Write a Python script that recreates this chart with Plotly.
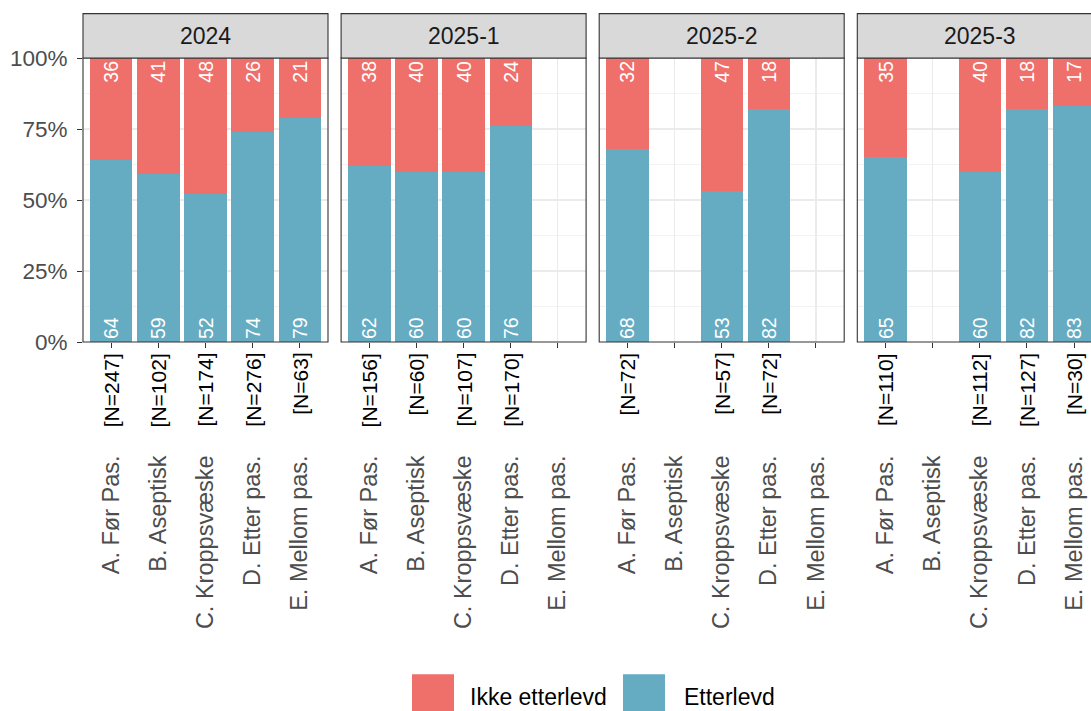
import plotly.graph_objects as go

# ---------------- data ----------------
periods = ["2024", "2025-1", "2025-2", "2025-3"]
categories = ["A. Før Pas.", "B. Aseptisk", "C. Kroppsvæske", "D. Etter pas.", "E. Mellom pas."]
series_names = ["Ikke etterlevd", "Etterlevd"]
series_colors = ["#EF6F6A", "#65ACC3"]

etterlevd_2024 = [64, 59, 52, 74, 79]
ikke_2024 = [36, 41, 48, 26, 21]
n_2024 = [247, 102, 174, 276, 63]

etterlevd_2025_1 = [62, 60, 60, 76, None]
ikke_2025_1 = [38, 40, 40, 24, None]
n_2025_1 = [156, 60, 107, 170, None]

etterlevd_2025_2 = [68, None, 53, 82, None]
ikke_2025_2 = [32, None, 47, 18, None]
n_2025_2 = [72, None, 57, 72, None]

etterlevd_2025_3 = [65, None, 60, 82, 83]
ikke_2025_3 = [35, None, 40, 18, 17]
n_2025_3 = [110, None, 112, 127, 30]

y_ticks = [0, 25, 50, 75, 100]

etterlevd_all = [etterlevd_2024, etterlevd_2025_1, etterlevd_2025_2, etterlevd_2025_3]
ikke_all = [ikke_2024, ikke_2025_1, ikke_2025_2, ikke_2025_3]
n_all = [n_2024, n_2025_1, n_2025_2, n_2025_3]

# ---------------- layout geometry (pixels) ----------------
W, H = 1091, 711
L, R = 83, 0
T, B = 58.3, 342.0
PW = W - L - R
PH = B - T
FONT = "Liberation Sans, Arial, sans-serif"

def px(xp):
    return (xp - L) / PW

def py(yp):
    return (B - yp) / PH

panel_w = 245.0
panel_step = 258.1
unit = panel_w / 5.2
strip_top = 14.0

fig = go.Figure()
layout_axes = {}
shapes = []
annotations = []

def fmt(v):
    return [None if x is None else x / 100 for x in v]

for i, period in enumerate(periods):
    k = "" if i == 0 else str(i + 1)
    xa, ya = "x" + k, "y" + k
    left = L + panel_step * i
    right_full = left + panel_w
    right_vis = min(right_full, W)
    xr1 = -0.6 + (right_vis - left) / unit
    ext = (right_full - left) / (right_vis - left)  # >1 for clipped last panel

    fig.add_trace(go.Bar(
        x=categories, y=fmt(etterlevd_all[i]), name=series_names[1],
        marker=dict(color=series_colors[1], line=dict(width=0)), width=0.9,
        text=["" if v is None else str(v) for v in etterlevd_all[i]],
        textposition="inside", insidetextanchor="start", textangle=-90,
        textfont=dict(color="white", size=19.5, family=FONT),
        xaxis=xa, yaxis=ya, showlegend=False, hoverinfo="skip"))
    fig.add_trace(go.Bar(
        x=categories, y=fmt(ikke_all[i]), name=series_names[0],
        marker=dict(color=series_colors[0], line=dict(width=0)), width=0.9,
        text=["" if v is None else str(v) for v in ikke_all[i]],
        textposition="inside", insidetextanchor="end", textangle=-90,
        textfont=dict(color="white", size=19.5, family=FONT),
        xaxis=xa, yaxis=ya, showlegend=False, hoverinfo="skip"))

    layout_axes["xaxis" + k] = dict(
        domain=[px(left), px(right_vis)], anchor=ya, type="category",
        categoryorder="array", categoryarray=categories,
        range=[-0.6, xr1], showline=False, zeroline=False,
        showgrid=True, gridcolor="#EBEBEB", gridwidth=1.2,
        ticks="outside", ticklen=5, tickwidth=1, tickcolor="#333333",
        tickangle=-90, tickfont=dict(size=23.5, color="#4D4D4D", family=FONT),
        ticklabelstandoff=98, automargin=False, fixedrange=True)
    layout_axes["yaxis" + k] = dict(
        domain=[0, 1], anchor=xa, range=[0, 1],
        tickvals=[v / 100 for v in y_ticks], ticktext=[f"{v}%" for v in y_ticks],
        showticklabels=(i == 0), ticks="outside" if i == 0 else "",
        ticklen=5, tickwidth=1, tickcolor="#333333",
        tickfont=dict(size=22.5, color="#4D4D4D", family=FONT),
        ticklabelstandoff=5,
        showline=False, zeroline=False, showgrid=True,
        gridcolor="#EBEBEB", gridwidth=1.2,
        minor=dict(dtick=0.125, tick0=0, showgrid=True, gridcolor="#EBEBEB", gridwidth=0.6, ticks=""),
        automargin=False, fixedrange=True)

    # panel border
    shapes.append(dict(type="rect", xref=xa + " domain", yref=ya + " domain",
                       x0=0, x1=ext, y0=0, y1=1, line=dict(color="#333333", width=1.1),
                       fillcolor="rgba(0,0,0,0)", layer="above"))
    # strip
    strip_h = (T - strip_top) / PH
    shapes.append(dict(type="rect", xref=xa + " domain", yref=ya + " domain",
                       x0=0, x1=ext, y0=1, y1=1 + strip_h,
                       line=dict(color="#333333", width=1.1), fillcolor="#D9D9D9", layer="above"))
    annotations.append(dict(text=period, xref=xa + " domain", yref=ya + " domain",
                            x=0.5 * ext, y=1 + strip_h / 2, showarrow=False,
                            xanchor="center", yanchor="middle",
                            font=dict(size=23, color="#1A1A1A", family=FONT)))
    # N labels
    for cat, n in zip(categories, n_all[i]):
        if n is None:
            continue
        annotations.append(dict(text=f"[N={n}]", xref=xa, yref="paper",
                                x=cat, y=py(352), showarrow=False, textangle=-90,
                                xanchor="center", yanchor="top", borderpad=0,
                                font=dict(size=21, color="#000000", family=FONT)))

# legend drawn manually
legend_items = [(series_names[0], series_colors[0], 412, 468),
                (series_names[1], series_colors[1], 623, 682)]
for name, color, kx, tx in legend_items:
    shapes.append(dict(type="rect", xref="paper", yref="paper",
                       x0=px(kx), x1=px(kx + 42), y0=py(716), y1=py(674),
                       line=dict(width=0), fillcolor=color))
    annotations.append(dict(text=name, xref="paper", yref="paper", x=px(tx), y=py(697),
                            showarrow=False, xanchor="left", yanchor="middle",
                            font=dict(size=23, color="#000000", family=FONT)))

fig.update_layout(
    width=W, height=H, autosize=False,
    margin=dict(l=L, r=R, t=T, b=H - B, pad=0),
    paper_bgcolor="white", plot_bgcolor="white",
    barmode="stack", showlegend=False,
    font=dict(family=FONT),
    shapes=shapes, annotations=annotations,
    **layout_axes)

fig.write_html("out.html",
               config={"displayModeBar": False, "staticPlot": True},
               post_script="document.body.style.margin='0';document.body.style.overflow='hidden';")
